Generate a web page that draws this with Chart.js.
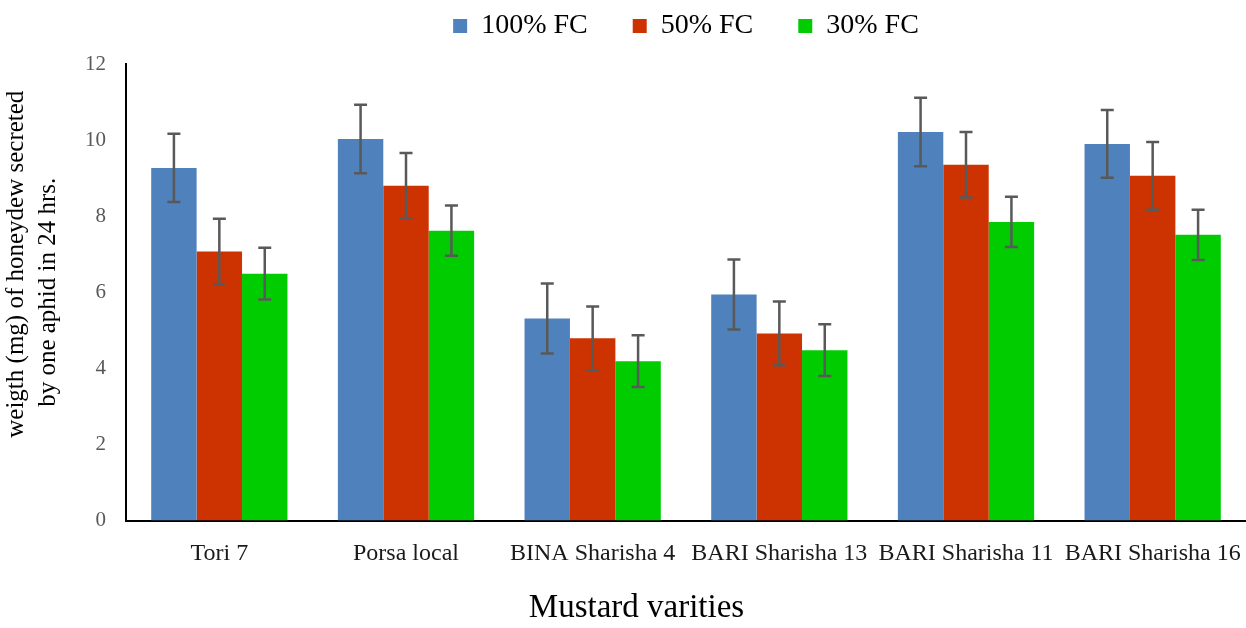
<!DOCTYPE html>
<html>
<head>
<meta charset="utf-8">
<script src="https://cdn.jsdelivr.net/npm/chart.js@4/dist/chart.umd.min.js"></script>
<style>
  html, body { margin: 0; padding: 0; background: #fff; }
  #wrap { width: 1246px; height: 628px; }
</style>
</head>
<body>
<div id="wrap"><canvas id="honeydewChart"></canvas></div>
<script>
// data
const varieties = ['Tori 7', 'Porsa local', 'BINA Sharisha 4', 'BARI Sharisha 13', 'BARI Sharisha 11', 'BARI Sharisha 16'];
const fc100 = [9.27, 10.03, 5.31, 5.94, 10.21, 9.90];
const fc50 = [7.07, 8.80, 4.79, 4.92, 9.35, 9.06];
const fc30 = [6.49, 7.62, 4.19, 4.48, 7.85, 7.51];
const err100 = [0.90, 0.90, 0.92, 0.92, 0.90, 0.89];
const err50 = [0.86, 0.86, 0.84, 0.84, 0.86, 0.89];
const err30 = [0.68, 0.66, 0.68, 0.68, 0.66, 0.66];
const yTicks = [0, 2, 4, 6, 8, 10, 12];

// error bars on top of the bars
const errorBars = {
    id: 'errorBars',
    afterDatasetsDraw(chart) {
        const c = chart.ctx;
        const y = chart.scales.y;
        c.save();
        c.strokeStyle = '#595959';
        c.lineWidth = 2.5;
        chart.data.datasets.forEach((ds, i) => {
            const meta = chart.getDatasetMeta(i);
            meta.data.forEach((bar, j) => {
                const v = ds.data[j], e = ds.errors[j];
                const top = y.getPixelForValue(v + e);
                const bot = y.getPixelForValue(v - e);
                c.beginPath();
                c.moveTo(bar.x, top); c.lineTo(bar.x, bot);
                c.moveTo(bar.x - 6.5, top); c.lineTo(bar.x + 6.5, top);
                c.moveTo(bar.x - 6.5, bot); c.lineTo(bar.x + 6.5, bot);
                c.stroke();
            });
        });
        c.restore();
    }
};

// a bit more room under the legend
const legendGap = {
    id: 'legendGap',
    beforeInit(chart) {
        const fit = chart.legend.fit;
        chart.legend.fit = function () {
            fit.call(this);
            this.height += 14;
        };
    }
};

const ctx = document.getElementById('honeydewChart').getContext('2d');
const honeydewChart = new Chart(ctx, {
    type: 'bar',
    data: {
        labels: varieties,
        datasets: [
            { label: '100% FC', data: fc100, errors: err100, backgroundColor: '#4F81BD' },
            { label: '50% FC', data: fc50, errors: err50, backgroundColor: '#CC3300' },
            { label: '30% FC', data: fc30, errors: err30, backgroundColor: '#00CC00' }
        ]
    },
    options: {
        responsive: true,
        maintainAspectRatio: false,
        animation: false,
        datasets: {
            bar: { barPercentage: 1.0, categoryPercentage: 0.73 }
        },
        layout: { padding: { left: 0, right: 0, top: 2, bottom: 0 } },
        scales: {
            x: {
                // invisible tick marks give the label gap without
                // pushing the right edge of the plot in
                grid: { display: false, drawTicks: true, tickLength: 17, tickColor: 'rgba(0,0,0,0)' },
                border: { color: '#000', width: 2 },
                ticks: {
                    color: '#1a1a1a',
                    padding: 2,
                    maxRotation: 0,
                    autoSkip: false,
                    font: { family: 'Liberation Serif', size: 24 }
                },
                title: {
                    display: true,
                    // trailing spaces nudge the title left like the original
                    text: 'Mustard varities            ',
                    color: '#000',
                    padding: { top: 18, bottom: 0 },
                    font: { family: 'Liberation Serif', size: 33 }
                }
            },
            y: {
                min: 0,
                max: 12,
                afterBuildTicks(axis) { axis.ticks = yTicks.map(v => ({ value: v })); },
                grid: { display: false, drawTicks: false },
                border: { color: '#000', width: 2 },
                ticks: {
                    color: '#595959',
                    padding: 20,
                    font: { family: 'Liberation Serif', size: 21 }
                },
                title: {
                    display: true,
                    text: ['         weigth (mg) of honeydew secreted', 'by one aphid in 24 hrs.'],
                    color: '#000',
                    padding: { top: 0, bottom: 0 },
                    font: { family: 'Liberation Serif', size: 25, lineHeight: 1.3 }
                }
            }
        },
        plugins: {
            legend: {
                display: true,
                position: 'top',
                fullSize: false,
                labels: {
                    color: '#000',
                    boxWidth: 14,
                    boxHeight: 14,
                    padding: 10,
                    font: { family: 'Liberation Serif', size: 28 },
                    generateLabels(chart) {
                        const items = Chart.defaults.plugins.legend.labels.generateLabels(chart);
                        items.forEach((it, i) => {
                            if (i < items.length - 1) it.text += '     ';
                        });
                        return items;
                    }
                }
            },
            tooltip: { enabled: false }
        }
    },
    plugins: [errorBars, legendGap]
});
</script>
</body>
</html>
